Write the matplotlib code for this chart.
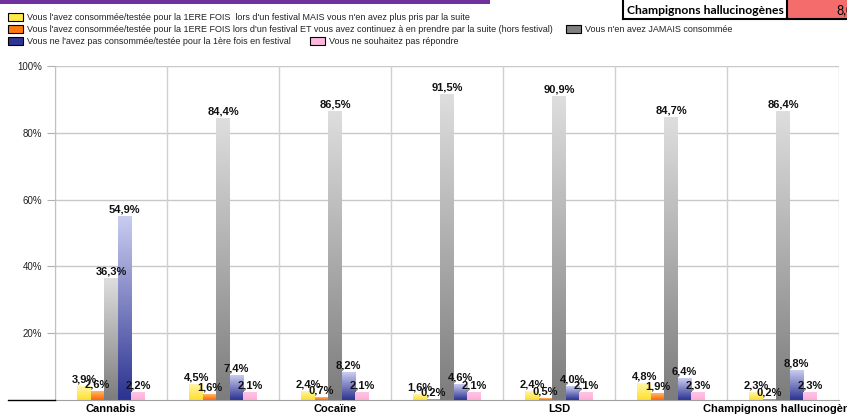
import matplotlib
matplotlib.use('Agg')
import matplotlib.pyplot as plt
from matplotlib.colors import LinearSegmentedColormap
from matplotlib.patches import Rectangle
from matplotlib.lines import Line2D
import numpy as np

plt.rcParams['font.family'] = ['Liberation Sans', 'DejaVu Sans']

categories = ['Cannabis', '', 'Cocaïne', '', 'LSD', '', 'Champignons hallucinogènes']

first_stopped = [3.9, 4.5, 2.4, 1.6, 2.4, 4.8, 2.3]
first_continued = [2.6, 1.6, 0.7, 0.2, 0.5, 1.9, 0.2]
never = [36.3, 84.4, 86.5, 91.5, 90.9, 84.7, 86.4]
not_first = [54.9, 7.4, 8.2, 4.6, 4.0, 6.4, 8.8]
no_answer = [2.2, 2.1, 2.1, 2.1, 2.1, 2.3, 2.3]

series_labels = [
    "Vous l'avez consommée/testée pour la 1ERE FOIS  lors d'un festival MAIS vous n'en avez plus pris par la suite",
    "Vous l'avez consommée/testée pour la 1ERE FOIS lors d'un festival ET vous avez continuez à en prendre par la suite (hors festival)",
    "Vous n'en avez JAMAIS consommée",
    "Vous ne l'avez pas consommée/testée pour la 1ère fois en festival",
    "Vous ne souhaitez pas répondre",
]

yticks = [20, 40, 60, 80, 100]
ytick_labels = ['20%', '40%', '60%', '80%', '100%']

# (dark bottom, light top, legend swatch)
grads = [
    ('#ffdf2e', '#fff6a8', '#ffe94a'),
    ('#ff6600', '#ffb868', '#ff7a10'),
    ('#7c7c7c', '#dedede', '#808080'),
    ('#2b3290', '#cacdf0', '#2e3590'),
    ('#ffaed8', '#ffc4e4', '#ffb6dc'),
]

W, H = 847, 420
fig = plt.figure(figsize=(W / 100, H / 100), dpi=100)
ax = fig.add_axes([55 / W, 20 / H, (839 - 55) / W, (400 - 66) / H])

data = [first_stopped, first_continued, never, not_first, no_answer]
n = len(categories)
x = np.arange(n)
bw = 0.12
grad = np.linspace(1, 0, 256).reshape(-1, 1)

for k, vals in enumerate(data):
    dark, light, _ = grads[k]
    cmap = LinearSegmentedColormap.from_list('g%d' % k, [dark, light])
    for i, v in enumerate(vals):
        x0 = x[i] + (k - 2.5) * bw
        ax.imshow(grad, extent=[x0, x0 + bw, 0, v], aspect='auto', cmap=cmap,
                  origin='upper', zorder=2, interpolation='bilinear')
        ax.text(x0 + bw / 2, v + 0.6, ('%.1f%%' % v).replace('.', ','),
                ha='center', va='bottom', fontsize=8, fontweight='bold',
                color='#111111', zorder=4)

ax.set_xlim(-0.5, n - 0.5)
ax.set_ylim(0, 100)
ax.set_yticks(yticks)
ax.set_yticklabels(ytick_labels, fontsize=7, color='#222222')
ax.set_xticks(x)
ax.set_xticklabels(categories, fontsize=8, fontweight='bold')
ax.tick_params(axis='x', length=0, pad=3)
ax.tick_params(axis='y', length=6, color='#b0b0b0', pad=3)
ax.yaxis.grid(True, color='#c8c8c8', lw=1)
ax.set_axisbelow(True)
for b in np.arange(-0.5, n, 1.0):
    ax.axvline(b, color='#d0d0d0', lw=1, zorder=1)
for s in ['top', 'right']:
    ax.spines[s].set_visible(False)
ax.spines['left'].set_color('#c0c0c0')
ax.spines['bottom'].set_color('#a0a0a0')

# black stub left of the baseline
fig.add_artist(Line2D([8 / W, 55 / W], [1 - 400 / H] * 2, color='black', lw=1))

# purple band at the top
fig.add_artist(Rectangle((0, 1 - 4 / H), 490 / W, 4 / H, color='#7030a0', lw=0))

# legend built by hand (three rows)
legend_pos = [(8, 17), (8, 29), (566, 29), (8, 41), (310, 41)]
for k, (px, py) in enumerate(legend_pos):
    fig.add_artist(Rectangle((px / W, 1 - (py + 3.5) / H), 15 / W, 7 / H,
                             facecolor=grads[k][2], edgecolor='black', lw=0.8))
    fig.text((px + 19) / W, 1 - py / H, series_labels[k], fontsize=6.5,
             va='center', ha='left', color='#222222')

# table cell at the top right
fig.add_artist(Rectangle((787 / W, 1 - 19 / H), 60 / W, 19 / H,
                         facecolor='#f56c6c', edgecolor='none'))
fig.add_artist(Line2D([623 / W, 623 / W], [1, 1 - 19 / H], color='black', lw=1.5))
fig.add_artist(Line2D([787 / W, 787 / W], [1, 1 - 19 / H], color='black', lw=1.5))
fig.add_artist(Line2D([623 / W, 1], [1 - 19 / H] * 2, color='black', lw=1.5))
fig.text(705 / W, 1 - 10 / H, 'Champignons hallucinogènes', fontsize=8.7,
         fontweight='bold', family=['Lato', 'DejaVu Sans'], ha='center', va='center')
fig.text(836 / W, 1 - 10 / H, '8,0%', fontsize=9, family=['Lato', 'DejaVu Sans'],
         ha='left', va='center')

fig.savefig('out.png', dpi=100)
